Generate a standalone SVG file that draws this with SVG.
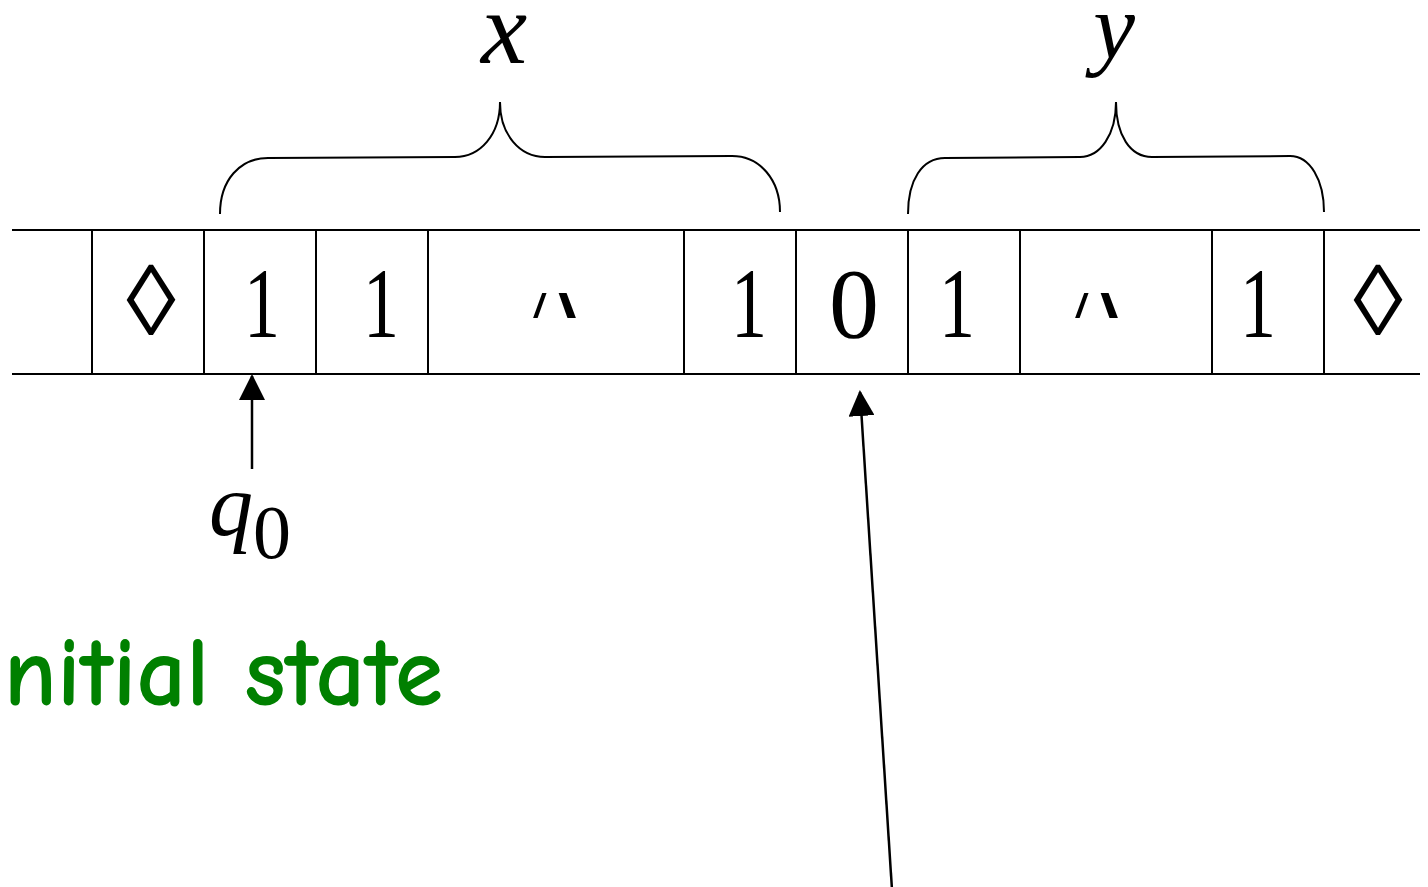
<svg xmlns="http://www.w3.org/2000/svg" width="1428" height="887" viewBox="0 0 1428 887">
  <style>
    .tape { stroke: #000; stroke-width: 2; fill: none; }
    .serif { font-family: 'Liberation Serif', 'Times New Roman', serif; fill: #000; }
    .sym { font-size: 100px; text-anchor: middle; }
    .dots { font-size: 80px; text-anchor: middle; }
    .var { font-style: italic; }
    .brace { stroke: #000; stroke-width: 2; fill: none; }
    .arrow { stroke: #000; stroke-width: 2.5; fill: none; marker-end: url(#head); }
    .note { font-family: 'Comic Sans MS', 'Comic Neue', Lato, sans-serif; font-size: 100px; font-weight: bold; fill: #008000; }
  </style>
  <defs>
    <marker id="head" viewBox="0 0 26 26" refX="24" refY="13" markerWidth="26" markerHeight="26" markerUnits="userSpaceOnUse" orient="auto">
      <path d="M0,0 L26,13 L0,26 Z" fill="#000"/>
    </marker>
    <clipPath id="dotsClip">
      <rect x="0" y="293" width="1428" height="25"/>
    </clipPath>
  </defs>
  <rect width="1428" height="887" fill="#fff"/>

  <!-- tape -->
  <g id="tape">
    <line class="tape" x1="12" y1="230" x2="1420" y2="230"/>
    <line class="tape" x1="12" y1="374" x2="1420" y2="374"/>
    <line class="tape" x1="92" y1="230" x2="92" y2="374"/>
    <line class="tape" x1="204" y1="230" x2="204" y2="374"/>
    <line class="tape" x1="316" y1="230" x2="316" y2="374"/>
    <line class="tape" x1="428" y1="230" x2="428" y2="374"/>
    <line class="tape" x1="684" y1="230" x2="684" y2="374"/>
    <line class="tape" x1="796" y1="230" x2="796" y2="374"/>
    <line class="tape" x1="908" y1="230" x2="908" y2="374"/>
    <line class="tape" x1="1020" y1="230" x2="1020" y2="374"/>
    <line class="tape" x1="1212" y1="230" x2="1212" y2="374"/>
    <line class="tape" x1="1324" y1="230" x2="1324" y2="374"/>
  </g>

  <!-- cell contents (the ones are set slightly condensed) -->
  <g id="cells">
    <text class="serif sym" x="151" y="335">◊</text>
    <text class="serif sym" transform="translate(262,0) scale(0.72,1)" x="0" y="337">1</text>
    <text class="serif sym" transform="translate(381,0) scale(0.72,1)" x="0" y="337">1</text>
    <text class="serif dots" x="555" y="323" clip-path="url(#dotsClip)">Λ</text>
    <text class="serif sym" transform="translate(749,0) scale(0.72,1)" x="0" y="337">1</text>
    <text class="serif sym" x="854" y="337">0</text>
    <text class="serif sym" transform="translate(957,0) scale(0.72,1)" x="0" y="337">1</text>
    <text class="serif dots" x="1097" y="323" clip-path="url(#dotsClip)">Λ</text>
    <text class="serif sym" transform="translate(1258,0) scale(0.72,1)" x="0" y="337">1</text>
    <text class="serif sym" x="1378" y="335">◊</text>
  </g>

  <!-- braces and labels -->
  <g id="brace-x">
    <path class="brace" d="M220,214 C220,180 240,158 268,158 L455,157 C480,157 500,135 500,102 C500,135 520,157 545,157 L732,156 C760,156 780,180 780,212"/>
    <text class="serif var" x="504" y="63" font-size="104" text-anchor="middle">x</text>
  </g>
  <g id="brace-y">
    <path class="brace" d="M908,214 C908,180 922,158 945,158 L1080,157 C1100,157 1116,135 1116,102 C1116,135 1130,157 1152,157 L1290,156 C1310,156 1324,180 1324,212"/>
    <text class="serif var" x="1114" y="58" font-size="94" text-anchor="middle">y</text>
  </g>

  <!-- head label -->
  <g id="state">
    <text class="serif" x="209" y="535"><tspan class="var" font-size="88">q</tspan><tspan font-size="76" x="253" y="558">0</tspan></text>
  </g>

  <g id="caption">
    <text class="note" x="-20" y="705" textLength="463" lengthAdjust="spacingAndGlyphs">initial state</text>
  </g>

  <!-- connectors -->
  <g id="connectors">
    <line class="arrow" x1="252" y1="469" x2="252" y2="376"/>
    <line class="arrow" x1="892" y1="890" x2="860" y2="392"/>
  </g>
</svg>
